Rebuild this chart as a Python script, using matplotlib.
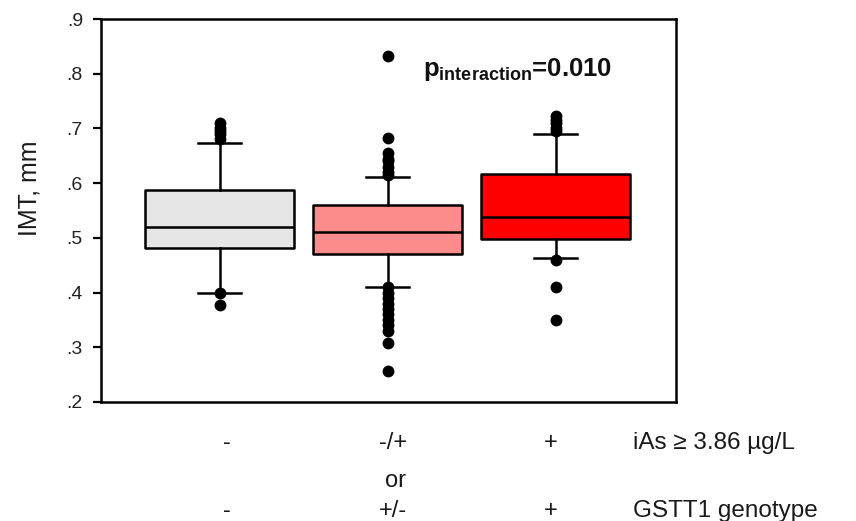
import matplotlib
matplotlib.use('Agg')
import matplotlib.pyplot as plt

plt.rcParams['font.family'] = ['Liberation Sans', 'DejaVu Sans']
plt.rcParams['mathtext.fontset'] = 'custom'
plt.rcParams['mathtext.rm'] = 'Liberation Sans'
plt.rcParams['mathtext.bf'] = 'Liberation Sans:bold'

# box statistics (IMT, mm)
positions = [1, 2, 3]
q1 = [0.481, 0.470, 0.498]
medians = [0.520, 0.511, 0.538]
q3 = [0.587, 0.560, 0.617]
whis_lo = [0.400, 0.410, 0.463]
whis_hi = [0.674, 0.611, 0.690]
fliers = [
    [0.71, 0.70, 0.695, 0.69, 0.68, 0.40, 0.378],
    [0.832, 0.682, 0.655, 0.645, 0.64, 0.63, 0.62, 0.615,
     0.41, 0.40, 0.39, 0.38, 0.37, 0.36, 0.35, 0.34, 0.33, 0.308, 0.257],
    [0.722, 0.715, 0.71, 0.70, 0.695, 0.46, 0.41, 0.35],
]
box_colors = ['#e6e6e6', '#ff8c8c', '#ff0000']

yticks = [0.2, 0.3, 0.4, 0.5, 0.6, 0.7, 0.8, 0.9]
ytick_labels = ['.2', '.3', '.4', '.5', '.6', '.7', '.8', '.9']

row1 = ['-', '-/+', '+']
row2 = ['-', '+/-', '+']
row1_name = 'iAs \u2265 3.86 \u00b5g/L'
row2_name = 'GSTT1 genotype'
p_text = r'$\mathbf{p_{interaction}}$=0.010'

stats = []
for i in range(3):
    stats.append({'q1': q1[i], 'med': medians[i], 'q3': q3[i],
                  'whislo': whis_lo[i], 'whishi': whis_hi[i],
                  'fliers': fliers[i]})

fig = plt.figure(figsize=(8.56, 5.21), dpi=100)
ax = fig.add_axes([101 / 856, 1 - 402 / 521, 575 / 856, 383 / 521])

lw = 1.8
bp = ax.bxp(stats, positions=positions, widths=0.887, patch_artist=True,
            showfliers=True,
            boxprops=dict(linewidth=lw, edgecolor='black'),
            medianprops=dict(color='black', linewidth=lw),
            whiskerprops=dict(color='black', linewidth=lw),
            capprops=dict(color='black', linewidth=lw),
            capwidths=0.256,
            flierprops=dict(marker='o', markerfacecolor='black',
                            markeredgecolor='black', markersize=7.5))
for patch, c in zip(bp['boxes'], box_colors):
    patch.set_facecolor(c)
    patch.set_joinstyle('round')

ax.set_xlim(0.292, 3.715)
ax.set_ylim(0.2, 0.9)
ax.set_yticks(yticks)
ax.set_yticklabels(ytick_labels, fontsize=14, color='#222222')
ax.set_xticks([])
ax.tick_params(axis='y', direction='out', length=6, width=1.6, pad=7)
for sp in ax.spines.values():
    sp.set_linewidth(1.8)

ax.set_ylabel('IMT, mm', fontsize=18, color='#1a1a1a')
ax.yaxis.set_label_coords(-0.103, 0.559)

ax.text(2.209, 0.808, p_text, fontsize=18.5, fontweight='bold',
        ha='left', va='center', color='#111111')

# category labels under the axis
trans = ax.get_xaxis_transform()
label_x = [1.042, 2.030, 2.971]
for x, a in zip(label_x, row1):
    ax.text(x, -0.107, a, transform=trans, fontsize=17,
            ha='center', va='center', color='#1a1a1a')
for x, b in zip(label_x, row2):
    ax.text(x, -0.284, b, transform=trans, fontsize=17,
            ha='center', va='center', color='#1a1a1a')
ax.text(2.048, -0.207, 'or', transform=trans, fontsize=17,
        ha='center', va='center', color='#1a1a1a')
ax.text(3.459, -0.107, row1_name, transform=trans, fontsize=17.5,
        ha='left', va='center', color='#1a1a1a')
ax.text(3.459, -0.284, row2_name, transform=trans, fontsize=17.5,
        ha='left', va='center', color='#1a1a1a')

fig.savefig('out.png', dpi=100)
